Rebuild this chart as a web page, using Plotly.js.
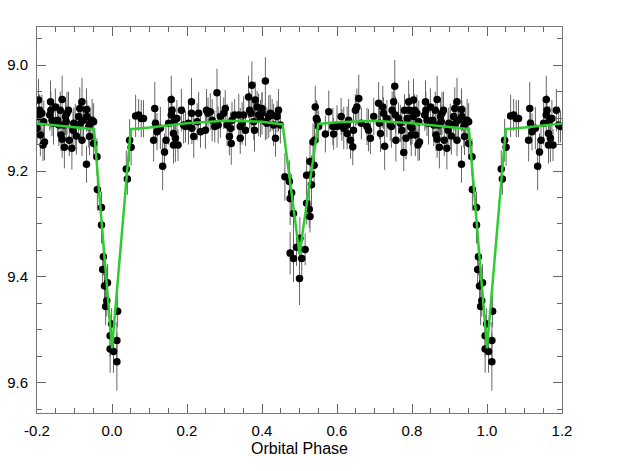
<!DOCTYPE html>
<html>
<head>
<meta charset="utf-8">
<script src="https://cdn.plot.ly/plotly-3.0.1.min.js"></script>
<style>
  html, body { margin: 0; padding: 0; background: #fff; }
  #plot { width: 639px; height: 471px; }
</style>
</head>
<body>
<div id="plot"></div>
<script>
// phase-folded light curve, phase 0..1 (wrapped copies are added below)
const phase = [
  0.004, 0.013, 0.013, 0.015, 0.038, 0.041, 0.047, 0.051, 0.063, 0.071, 0.078,
  0.084, 0.111, 0.114, 0.116, 0.120, 0.129, 0.135, 0.140, 0.144, 0.151,
  0.158, 0.158, 0.160, 0.164, 0.164, 0.166, 0.169, 0.173, 0.176, 0.185,
  0.191, 0.196, 0.204, 0.212, 0.212, 0.213, 0.218, 0.227, 0.231, 0.236,
  0.249, 0.252, 0.256, 0.262, 0.267, 0.274, 0.280, 0.283, 0.289, 0.298,
  0.302, 0.307, 0.313, 0.316, 0.318, 0.320, 0.327, 0.338, 0.342, 0.342,
  0.347, 0.351, 0.356,
  0.364, 0.367, 0.371, 0.373, 0.378, 0.380, 0.382, 0.387, 0.391, 0.396,
  0.400, 0.400, 0.409, 0.409, 0.413, 0.418, 0.422, 0.427, 0.431, 0.436,
  0.440, 0.444, 0.449,
  0.461, 0.473, 0.475, 0.475, 0.479, 0.484, 0.484, 0.492, 0.500, 0.501,
  0.506, 0.515, 0.519, 0.519, 0.526, 0.528, 0.528, 0.532, 0.532, 0.539,
  0.536, 0.540, 0.542, 0.545, 0.547, 0.551, 0.569, 0.578, 0.589, 0.591,
  0.600, 0.611, 0.613, 0.618, 0.627, 0.627, 0.631, 0.636,
  0.642, 0.644, 0.649, 0.653, 0.658, 0.665, 0.680, 0.684, 0.689, 0.698,
  0.711, 0.713, 0.716, 0.722, 0.724, 0.727, 0.733, 0.742, 0.745, 0.747,
  0.751, 0.754, 0.756, 0.757, 0.764, 0.769, 0.773, 0.778, 0.780, 0.784,
  0.787, 0.791, 0.793, 0.796, 0.798, 0.800,
  0.804, 0.804, 0.807, 0.809, 0.813, 0.816, 0.818, 0.820, 0.834, 0.836,
  0.837, 0.840, 0.844, 0.849, 0.855, 0.858, 0.862, 0.864, 0.867, 0.867,
  0.871, 0.873, 0.876, 0.878, 0.880, 0.884, 0.886, 0.893, 0.896, 0.898,
  0.902, 0.905, 0.911, 0.914, 0.916, 0.920, 0.920, 0.924, 0.932, 0.932,
  0.933, 0.938, 0.940, 0.942, 0.947, 0.951, 0.951, 0.960, 0.961,
  0.972, 0.972, 0.975, 0.977, 0.980, 0.983, 0.986, 0.988, 0.995, 0.995, 0.999
];

const mag = [
  9.541, 9.520, 9.560, 9.465, 9.196, 9.215, 9.142, 9.155, 9.096, 9.094, 9.101,
  9.101, 9.142, 9.082, 9.110, 9.126, 9.119, 9.191, 9.164, 9.142, 9.110,
  9.065, 9.094, 9.085, 9.129, 9.151, 9.107, 9.138, 9.101, 9.151, 9.085,
  9.113, 9.116, 9.110, 9.069, 9.091, 9.119, 9.135, 9.107, 9.091, 9.126,
  9.123, 9.085, 9.091, 9.088, 9.104, 9.116, 9.052, 9.113, 9.097, 9.091,
  9.082, 9.113, 9.135, 9.119, 9.148, 9.104, 9.094, 9.094, 9.116, 9.138,
  9.110, 9.094, 9.123,
  9.060, 9.085, 9.091, 9.038, 9.107, 9.123, 9.066, 9.079, 9.094, 9.101,
  9.082, 9.091, 9.030, 9.107, 9.110, 9.097, 9.091, 9.094, 9.113, 9.138,
  9.097, 9.085, 9.113,
  9.211, 9.220, 9.252, 9.355, 9.241, 9.280, 9.365, 9.344, 9.403, 9.327,
  9.365, 9.348, 9.208, 9.261, 9.272, 9.182, 9.286, 9.206, 9.226, 9.189,
  9.145, 9.142, 9.079, 9.101, 9.104, 9.116, 9.130, 9.088, 9.116, 9.130,
  9.116, 9.097, 9.113, 9.119, 9.113, 9.129, 9.104, 9.142,
  9.154, 9.123, 9.085, 9.079, 9.063, 9.110, 9.116, 9.123, 9.138, 9.097,
  9.072, 9.110, 9.129, 9.079, 9.091, 9.153, 9.101, 9.113, 9.116, 9.085,
  9.069, 9.040, 9.094, 9.142, 9.101, 9.110, 9.123, 9.165, 9.085, 9.138,
  9.101, 9.069, 9.085, 9.116, 9.132, 9.119,
  9.066, 9.097, 9.085, 9.132, 9.091, 9.151, 9.107, 9.145, 9.094, 9.069,
  9.085, 9.104, 9.110, 9.079, 9.104, 9.113, 9.085, 9.132, 9.065, 9.140,
  9.113, 9.155, 9.097, 9.107, 9.091, 9.085, 9.142, 9.157, 9.123, 9.110,
  9.113, 9.134, 9.097, 9.082, 9.110, 9.142, 9.069, 9.104, 9.084, 9.187,
  9.097, 9.116, 9.135, 9.110, 9.104, 9.107, 9.148, 9.173, 9.235,
  9.269, 9.302, 9.386, 9.362, 9.417, 9.456, 9.445, 9.411, 9.511, 9.536, 9.489
];

const magErr = [
  0.040, 0.035, 0.055, 0.030, 0.035, 0.030, 0.040, 0.035, 0.040, 0.030, 0.035,
  0.035, 0.040, 0.050, 0.030, 0.035, 0.040, 0.045, 0.035, 0.030, 0.040,
  0.045, 0.035, 0.030, 0.040, 0.035, 0.030, 0.045, 0.035, 0.030, 0.040,
  0.035, 0.030, 0.040, 0.045, 0.035, 0.030, 0.040, 0.035, 0.040, 0.030,
  0.035, 0.040, 0.030, 0.035, 0.040, 0.030, 0.045, 0.035, 0.040, 0.030,
  0.035, 0.040, 0.035, 0.030, 0.040, 0.035, 0.030, 0.040, 0.035, 0.030,
  0.040, 0.035, 0.030,
  0.040, 0.035, 0.030, 0.045, 0.035, 0.040, 0.035, 0.030, 0.040, 0.035,
  0.030, 0.040, 0.045, 0.035, 0.030, 0.040, 0.035, 0.030, 0.040, 0.035,
  0.030, 0.040, 0.035,
  0.045, 0.040, 0.050, 0.040, 0.035, 0.040, 0.045, 0.035, 0.050, 0.040,
  0.035, 0.030, 0.035, 0.040, 0.035, 0.040, 0.030, 0.035, 0.040, 0.035,
  0.035, 0.040, 0.040, 0.035, 0.035, 0.030, 0.035, 0.040, 0.035, 0.030,
  0.040, 0.035, 0.030, 0.040, 0.035, 0.030, 0.040, 0.035,
  0.035, 0.040, 0.030, 0.035, 0.045, 0.030, 0.035, 0.040, 0.030, 0.035,
  0.040, 0.030, 0.035, 0.040, 0.030, 0.045, 0.035, 0.030, 0.040, 0.035,
  0.030, 0.050, 0.035, 0.040, 0.030, 0.035, 0.040, 0.035, 0.030, 0.040,
  0.035, 0.040, 0.030, 0.035, 0.040, 0.030,
  0.040, 0.035, 0.030, 0.040, 0.035, 0.030, 0.040, 0.035, 0.030, 0.040,
  0.035, 0.030, 0.040, 0.035, 0.030, 0.040, 0.035, 0.030, 0.045, 0.035,
  0.030, 0.040, 0.035, 0.030, 0.040, 0.035, 0.030, 0.040, 0.035, 0.030,
  0.040, 0.035, 0.030, 0.040, 0.035, 0.030, 0.045, 0.035, 0.040, 0.035,
  0.030, 0.040, 0.035, 0.030, 0.040, 0.035, 0.030, 0.035, 0.040,
  0.030, 0.035, 0.030, 0.035, 0.030, 0.035, 0.030, 0.035, 0.040, 0.045, 0.030
];

// model curve vertices, phase 0..1
const modelPhase = [0.0, 0.05, 0.1, 0.2, 0.3, 0.4, 0.455, 0.5, 0.55, 0.6, 0.7, 0.8, 0.9, 0.952];
const modelMag = [9.535, 9.121, 9.118, 9.110, 9.105, 9.107, 9.112, 9.357, 9.111, 9.108, 9.105, 9.110, 9.117, 9.121];

const xTickVals = [-0.2, 0.0, 0.2, 0.4, 0.6, 0.8, 1.0, 1.2];
const xTickText = ["-0.2", "0.0", "0.2", "0.4", "0.6", "0.8", "1.0", "1.2"];
const yTickVals = [9.0, 9.2, 9.4, 9.6];
const yTickText = ["9.0", "9.2", "9.4", "9.6"];

// fold: show phases 0.8..1 again at -0.2..0 and 0..0.2 again at 1..1.2
function wrap(ph, vals) {
  const xs = [], ys = [];
  ph.forEach((p, i) => { if (p >= 0.8) { xs.push(p - 1); ys.push(vals[i]); } });
  ph.forEach((p, i) => { xs.push(p); ys.push(vals[i]); });
  ph.forEach((p, i) => { if (p <= 0.2) { xs.push(p + 1); ys.push(vals[i]); } });
  return { xs, ys };
}

const pts = wrap(phase, mag);
const errs = wrap(phase, magErr).ys;
const model = wrap(modelPhase, modelMag);

const font = { family: "Liberation Sans, Arial, Helvetica, sans-serif", size: 15, color: "#000" };

const axisBase = {
  ticks: "inside",
  ticklen: 9,
  tickwidth: 1,
  tickcolor: "#666",
  showline: true,
  linecolor: "#777",
  linewidth: 1,
  mirror: "ticks",
  showgrid: false,
  zeroline: false,
  tickfont: font,
};

const data = [
  {
    x: pts.xs,
    y: pts.ys,
    type: "scatter",
    mode: "markers",
    marker: { color: "#000", size: 7.5 },
    error_y: { type: "data", array: errs, visible: true, color: "#666", thickness: 1, width: 0 },
    hoverinfo: "skip",
  },
  {
    x: model.xs,
    y: model.ys,
    type: "scatter",
    mode: "lines",
    line: { color: "#2fcc2f", width: 2.5 },
    hoverinfo: "skip",
  },
];

const layout = {
  width: 639,
  height: 471,
  margin: { l: 37, r: 77, t: 27, b: 58 },
  paper_bgcolor: "#fff",
  plot_bgcolor: "#fff",
  showlegend: false,
  font: font,
  xaxis: Object.assign({}, axisBase, {
    range: [-0.2, 1.2],
    tickmode: "array",
    tickvals: xTickVals,
    ticktext: xTickText,
    ticklabelstandoff: 4,
    minor: { tick0: -0.2, dtick: 0.05, ticks: "inside", ticklen: 5, tickcolor: "#666" },
    title: { text: "Orbital Phase", font: { family: font.family, size: 16, color: "#000" }, standoff: 4 },
  }),
  yaxis: Object.assign({}, axisBase, {
    range: [9.657, 8.928],
    tickmode: "array",
    tickvals: yTickVals,
    ticktext: yTickText,
    ticklabelstandoff: 5,
    minor: { tick0: 9.0, dtick: 0.05, ticks: "inside", ticklen: 5, tickcolor: "#666" },
  }),
};

Plotly.newPlot("plot", data, layout, { displayModeBar: false, staticPlot: true });
</script>
</body>
</html>
